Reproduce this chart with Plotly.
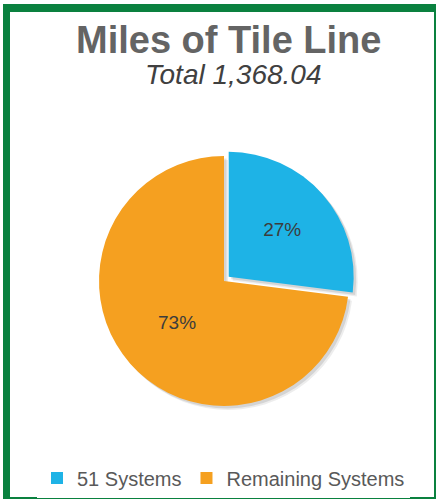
import plotly.graph_objects as go

labels = ["51 Systems", "Remaining Systems"]
shares = [27, 73]
colors = ["#1EB3E6", "#F5A020"]
title_text = "Miles of Tile Line"
subtitle_text = "Total 1,368.04"

W, H = 437, 500
GREEN = "#0A813F"

def px(x):
    return x / W

def py(y):
    return 1 - y / H

# pie geometry (pixels)
cx, cy, r, pull = 224, 281, 125, 0.05
half = r * (1 + pull)
dom_x = [px(cx - half), px(cx + half)]
dom_y = [py(cy + half), py(cy - half)]

fig = go.Figure()

# soft drop shadow
for off, alpha in [(4, 0.07), (2.5, 0.10)]:
    fig.add_trace(go.Pie(
        labels=["s_" + l for l in labels], values=shares, sort=False,
        direction="clockwise", rotation=0, pull=[pull, 0],
        marker=dict(colors=[f"rgba(0,0,0,{alpha})"] * 2, line=dict(width=0)),
        textinfo="none", hoverinfo="skip", showlegend=False,
        domain=dict(x=[dom_x[0] + off / W, dom_x[1] + off / W],
                    y=[dom_y[0] - off / H, dom_y[1] - off / H]),
    ))

fig.add_trace(go.Pie(
    labels=labels, values=shares, sort=False,
    direction="clockwise", rotation=0, pull=[pull, 0],
    marker=dict(colors=colors, line=dict(width=0)),
    texttemplate="%{percent:.0%}", textposition="inside",
    insidetextorientation="horizontal",
    textfont=dict(family="Liberation Sans", size=19, color="#3C3C3C"),
    domain=dict(x=dom_x, y=dom_y),
    hoverinfo="label+percent",
))

fig.add_annotation(text="<b>" + title_text + "</b>", x=px(228), y=py(40),
                   xref="paper", yref="paper", showarrow=False,
                   xanchor="center", yanchor="middle",
                   font=dict(family="Liberation Sans", size=38, color="#646464"))
fig.add_annotation(text="<i>" + subtitle_text + "</i>", x=px(233), y=py(74),
                   xref="paper", yref="paper", showarrow=False,
                   xanchor="center", yanchor="middle",
                   font=dict(family="Liberation Sans", size=28, color="#404040"))

# frame
shapes = [
    dict(type="rect", x0=px(3), x1=px(10), y0=py(498), y1=py(4), fillcolor=GREEN, line=dict(width=0)),
    dict(type="rect", x0=px(3), x1=px(436), y0=py(12), y1=py(4), fillcolor=GREEN, line=dict(width=0)),
    dict(type="rect", x0=px(434), x1=px(436), y0=py(498), y1=py(4), fillcolor=GREEN, line=dict(width=0)),
    dict(type="rect", x0=px(3), x1=px(436), y0=py(499), y1=py(497), fillcolor=GREEN, line=dict(width=0)),
]
for s in shapes:
    s.update(xref="paper", yref="paper", layer="above")
fig.update_layout(shapes=shapes)

fig.update_layout(
    width=W, height=H,
    margin=dict(l=0, r=0, t=0, b=0),
    paper_bgcolor="white", plot_bgcolor="white",
    showlegend=True,
    legend=dict(orientation="h", x=px(37), xanchor="left", y=py(478), yanchor="middle",
                font=dict(family="Liberation Sans", size=20, color="#595959"),
                itemwidth=30, traceorder="normal"),
)

fig.write_html("out.html", config={"displayModeBar": False},
               post_script="document.body.style.margin='0px';")
